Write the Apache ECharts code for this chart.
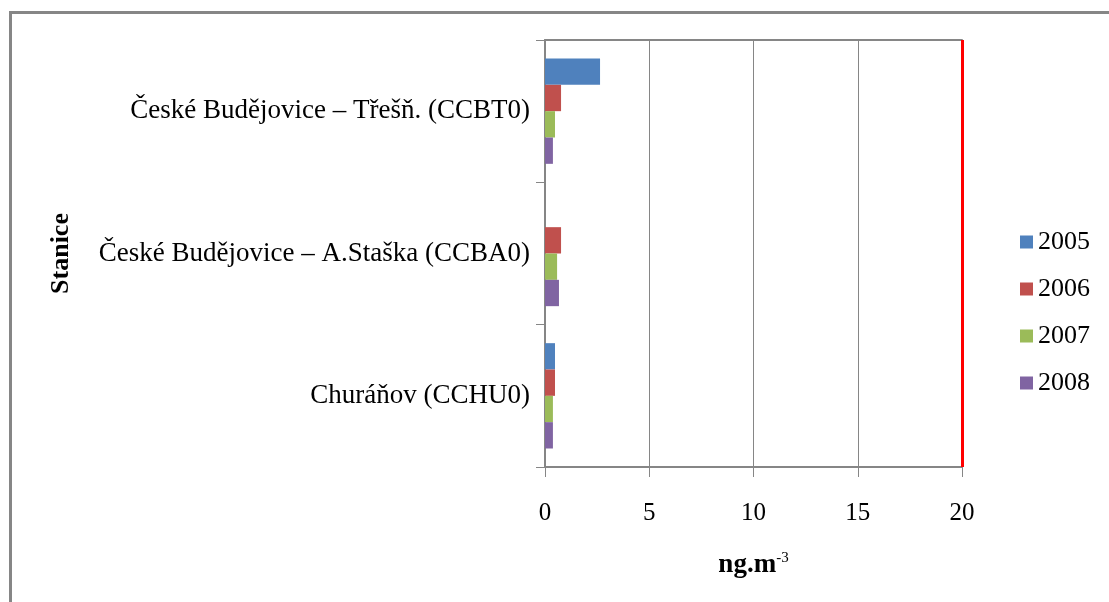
<!DOCTYPE html>
<html>
<head>
<meta charset="utf-8">
<style>
  html, body { margin: 0; padding: 0; background: #fff; }
  #chart { width: 1109px; height: 602px; }
</style>
<script src="https://cdn.jsdelivr.net/npm/echarts@6/dist/echarts.min.js"></script>
</head>
<body>
<div id="chart"></div>
<script>
// stanice (shora dolu)
var stations = ['České Budějovice – Třešň. (CCBT0)', 'České Budějovice – A.Staška (CCBA0)', 'Churáňov (CCHU0)'];
var years = ['2005', '2006', '2007', '2008'];
var data2005 = [2.64, 0, 0.48];
var data2006 = [0.77, 0.77, 0.48];
var data2007 = [0.48, 0.58, 0.38];
var data2008 = [0.38, 0.67, 0.38];
var limitValue = 20;
var xTicks = { min: 0, max: 20, interval: 5 };

var colors = ['#4F81BD', '#C0504D', '#9BBB59', '#8064A2'];
var serif = '"Liberation Serif", "DejaVu Serif", serif';
var gray = '#868686';

var chart = echarts.init(document.getElementById('chart'));
var seriesData = [data2005, data2006, data2007, data2008];

var series = years.map(function (y, i) {
    var s = {
        name: y,
        type: 'bar',
        data: seriesData[i],
        barGap: 0,
        barCategoryGap: '26%',
        itemStyle: { color: colors[i] }
    };
    if (i === 0) {
        // limitni hodnota
        s.markLine = {
            silent: true,
            symbol: ['none', 'none'],
            label: { show: false },
            lineStyle: { color: '#FF0000', width: 3, type: 'solid' },
            data: [{ xAxis: limitValue }]
        };
    }
    return s;
});

var option = {
    animation: false,
    color: colors,
    textStyle: { fontFamily: serif },
    grid: { left: 545, right: 147, top: 40, bottom: 135, containLabel: false },
    graphic: [{
        type: 'rect',
        left: 8, top: 10,
        shape: { width: 1200, height: 700 },
        style: { fill: 'none', stroke: gray, lineWidth: 3 },
        silent: true
    }],
    legend: {
        orient: 'vertical',
        left: 1020,
        top: 229,
        padding: 0,
        icon: 'rect',
        itemWidth: 13,
        itemHeight: 13,
        itemGap: 21,
        textStyle: { fontFamily: serif, fontSize: 26, color: '#000' },
        data: years
    },
    xAxis: [{
        type: 'value',
        min: xTicks.min,
        max: xTicks.max,
        interval: xTicks.interval,
        name: '{b|ng.m}{s|-3}',
        nameLocation: 'middle',
        nameGap: 84,
        nameTextStyle: {
            rich: {
                b: { fontFamily: serif, fontSize: 27, fontWeight: 'bold', color: '#000' },
                s: { fontFamily: serif, fontSize: 15, color: '#000', verticalAlign: 'top', padding: [0, 0, 14, 0] }
            }
        },
        axisLine: { show: true, lineStyle: { color: gray, width: 2 } },
        axisTick: { show: true, length: 10, lineStyle: { color: gray, width: 1 } },
        axisLabel: { margin: 34, fontFamily: serif, fontSize: 25, color: '#000' },
        splitLine: { show: true, lineStyle: { color: gray, width: 1 } }
    }, {
        type: 'value',
        position: 'top',
        min: xTicks.min,
        max: xTicks.max,
        interval: xTicks.interval,
        axisLine: { show: true, lineStyle: { color: gray, width: 2 } },
        axisTick: { show: false },
        axisLabel: { show: false },
        splitLine: { show: false }
    }],
    yAxis: {
        type: 'category',
        inverse: true,
        data: stations,
        name: 'Stanice',
        nameLocation: 'middle',
        nameGap: 471,
        nameRotate: 90,
        nameTextStyle: { fontFamily: serif, fontSize: 26, fontWeight: 'bold', color: '#000' },
        axisLine: { show: true, lineStyle: { color: gray, width: 2 } },
        axisTick: { show: true, length: 9, lineStyle: { color: gray, width: 1 } },
        axisLabel: { margin: 15, fontFamily: serif, fontSize: 27, color: '#000' }
    },
    series: series
};

chart.setOption(option);
window.addEventListener('resize', function () {
    chart.resize();
});
</script>
</body>
</html>
